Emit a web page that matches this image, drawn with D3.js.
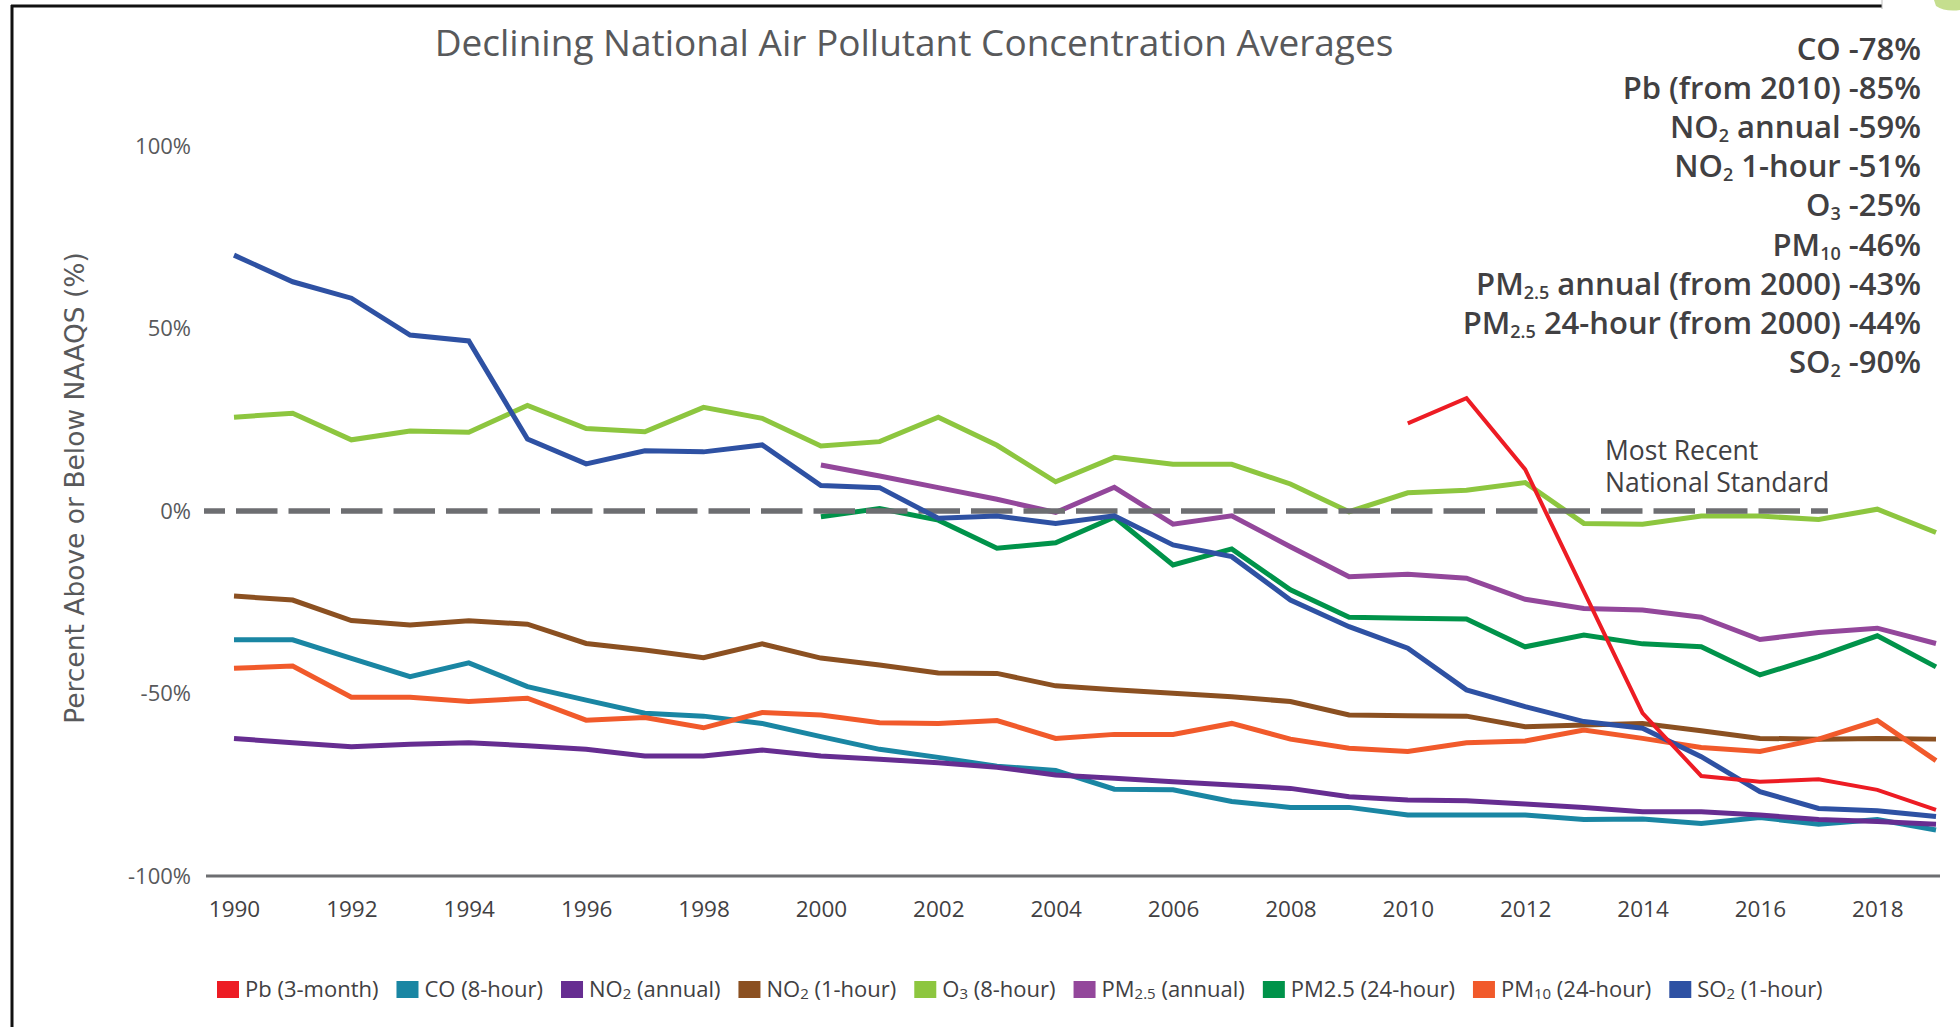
<!DOCTYPE html>
<html>
<head>
<meta charset="utf-8">
<script src="https://cdn.jsdelivr.net/npm/d3@7"></script>
<style>
  body { margin: 0; background: #fff; }
  svg { display: block; }
</style>
</head>
<body>
<svg id="chart" width="1960" height="1027"></svg>
<script>
// ---- data ----
const years = [1990, 1991, 1992, 1993, 1994, 1995, 1996, 1997, 1998, 1999,
               2000, 2001, 2002, 2003, 2004, 2005, 2006, 2007, 2008, 2009,
               2010, 2011, 2012, 2013, 2014, 2015, 2016, 2017, 2018, 2019];

const pb    = [null, null, null, null, null, null, null, null, null, null,
               null, null, null, null, null, null, null, null, null, null,
               24.0, 30.9, 11.4, -22.0, -55.4, -72.6, -74.2, -73.5, -76.4, -81.9];
const co    = [-35.3, -35.3, -40.4, -45.4, -41.6, -48.1, -51.8, -55.4, -56.2, -58.2,
               -61.8, -65.3, -67.5, -69.9, -71.1, -76.2, -76.4, -79.6, -81.2, -81.2,
               -83.3, -83.3, -83.3, -84.5, -84.4, -85.6, -84.0, -85.8, -84.5, -87.4];
const no2Annual = [-62.3, -63.5, -64.6, -63.9, -63.5, -64.3, -65.3, -67.1, -67.1, -65.5,
               -67.1, -68.0, -69.0, -70.2, -72.3, -73.2, -74.2, -75.1, -76.0, -78.3,
               -79.2, -79.4, -80.3, -81.2, -82.4, -82.4, -83.3, -84.5, -85.1, -85.8];
const no2Hour = [-23.3, -24.4, -30.0, -31.2, -30.1, -31.0, -36.3, -38.1, -40.2, -36.4,
               -40.3, -42.2, -44.4, -44.5, -47.9, -49.0, -49.9, -50.9, -52.2, -55.9,
               -56.1, -56.2, -59.1, -58.6, -58.2, -60.2, -62.3, -62.5, -62.3, -62.5];
const o3    = [25.7, 26.8, 19.5, 21.9, 21.6, 28.9, 22.6, 21.7, 28.4, 25.4,
               17.8, 19.0, 25.7, 18.0, 8.0, 14.7, 12.8, 12.8, 7.4, -0.2,
               5.0, 5.7, 7.8, -3.4, -3.6, -1.4, -1.4, -2.3, 0.5, -5.9];
const pm25Annual = [null, null, null, null, null, null, null, null, null, null,
               12.6, 9.6, 6.4, 3.2, -0.4, 6.5, -3.6, -1.3, -9.8, -18.0,
               -17.3, -18.4, -24.2, -26.7, -27.1, -29.1, -35.2, -33.3, -32.1, -36.3];
const pm25Day = [null, null, null, null, null, null, null, null, null, null,
               -1.6, 0.7, -2.5, -10.2, -8.7, -1.7, -14.8, -10.4, -21.6, -29.1,
               -29.4, -29.6, -37.2, -34.0, -36.4, -37.2, -44.9, -39.9, -34.2, -42.7];
const pm10  = [-43.1, -42.5, -51.0, -51.0, -52.2, -51.3, -57.3, -56.6, -59.4, -55.2,
               -55.9, -58.0, -58.2, -57.4, -62.3, -61.2, -61.2, -58.2, -62.5, -65.0,
               -65.9, -63.5, -63.0, -60.0, -62.3, -64.8, -65.9, -62.5, -57.4, -68.4];
const so2   = [70.1, 62.8, 58.3, 48.2, 46.6, 19.7, 12.9, 16.5, 16.2, 18.1,
               7.0, 6.4, -2.0, -1.4, -3.4, -1.3, -9.3, -12.5, -24.4, -31.7,
               -37.6, -49.0, -53.6, -57.7, -59.5, -67.3, -76.9, -81.5, -82.1, -83.7];

// legend order; "_{..}" marks a subscript
const seriesNames  = ["Pb (3-month)", "CO (8-hour)", "NO_{2} (annual)", "NO_{2} (1-hour)", "O_{3} (8-hour)",
                      "PM_{2.5} (annual)", "PM2.5 (24-hour)", "PM_{10} (24-hour)", "SO_{2} (1-hour)"];
const seriesValues = [pb, co, no2Annual, no2Hour, o3, pm25Annual, pm25Day, pm10, so2];
const seriesColors = ["#ED1C24", "#1A86A3", "#662D91", "#8B5021", "#8DC63F",
                      "#93479B", "#00934A", "#F15A2B", "#2E51A3"];

const xTicks = [1990, 1992, 1994, 1996, 1998, 2000, 2002, 2004, 2006, 2008, 2010, 2012, 2014, 2016, 2018];
const yTicks = [-100, -50, 0, 50, 100];

const summaryLines = ["CO -78%", "Pb (from 2010) -85%", "NO_{2} annual -59%", "NO_{2} 1-hour -51%",
                      "O_{3} -25%", "PM_{10} -46%", "PM_{2.5} annual (from 2000) -43%",
                      "PM_{2.5} 24-hour (from 2000) -44%", "SO_{2} -90%"];

const titleText = "Declining National Air Pollutant Concentration Averages";
const yTitle = "Percent Above or Below NAAQS (%)";
const standardNote = ["Most Recent", "National Standard"];

// ---- drawing ----
const svg = d3.select("#chart");
const FONT = "'Open Sans', 'Noto Sans', sans-serif";

const x = d3.scaleLinear().domain([1990, 2019]).range([234, 1936]);
const y = d3.scaleLinear().domain([-100, 100]).range([876, 146]);

// split "NO_{2} annual" into pieces
function pieces(str) {
  const out = [];
  const re = /_\{([^}]*)\}/g;
  let last = 0, m;
  while ((m = re.exec(str)) !== null) {
    if (m.index > last) out.push({ t: str.slice(last, m.index), sub: false });
    out.push({ t: m[1], sub: true });
    last = re.lastIndex;
  }
  if (last < str.length) out.push({ t: str.slice(last), sub: false });
  return out;
}

function richText(sel, str, subSize, subDrop) {
  let dropped = false;
  pieces(str).forEach(p => {
    const ts = sel.append("tspan").text(p.t);
    if (p.sub) {
      ts.attr("font-size", subSize).attr("dy", subDrop);
      dropped = true;
    } else if (dropped) {
      ts.attr("dy", -subDrop);
      dropped = false;
    }
  });
}

// frame edges from the screenshot
svg.append("line").attr("x1", 11).attr("x2", 1882).attr("y1", 6).attr("y2", 6)
  .attr("stroke", "#111").attr("stroke-width", 3);
svg.append("line").attr("x1", 12).attr("x2", 12).attr("y1", 5).attr("y2", 1027)
  .attr("stroke", "#111").attr("stroke-width", 3);
svg.append("line").attr("x1", 1882).attr("x2", 1882).attr("y1", 0).attr("y2", 9)
  .attr("stroke", "#bbb").attr("stroke-width", 1);
svg.append("path").attr("d", "M1934,0 L1960,0 L1960,10 Q1945,12 1936,6 Z").attr("fill", "#C5DE8E");

// title
svg.append("text")
  .attr("x", 914).attr("y", 56)
  .attr("text-anchor", "middle")
  .attr("font-family", FONT).attr("font-size", 37)
  .attr("fill", "#58595B")
  .text(titleText);

// y axis title
svg.append("text")
  .attr("transform", "translate(84,488) rotate(-90)")
  .attr("text-anchor", "middle")
  .attr("font-family", "'DejaVu Sans', sans-serif").attr("font-size", 26.5)
  .attr("fill", "#58595B")
  .text(yTitle);

// y tick labels
const yAxis = svg.append("g")
  .attr("transform", "translate(206,0)")
  .call(d3.axisLeft(y).tickValues(yTicks).tickFormat(d => d + "%").tickSize(0).tickPadding(15));
yAxis.select(".domain").remove();
yAxis.selectAll("text")
  .attr("font-family", FONT).attr("font-size", 22).attr("fill", "#58595B");

// x tick labels
const xAxis = svg.append("g")
  .attr("transform", `translate(0,${y(-100)})`)
  .call(d3.axisBottom(x).tickValues(xTicks).tickFormat(d3.format("d")).tickSize(0).tickPadding(25));
xAxis.select(".domain").remove();
xAxis.selectAll("text")
  .attr("font-family", FONT).attr("font-size", 22.5).attr("fill", "#414042");

// bottom baseline at -100%
svg.append("line")
  .attr("x1", x(1990) - 28).attr("x2", x(2019) + 4)
  .attr("y1", y(-100)).attr("y2", y(-100))
  .attr("stroke", "#6D6E71").attr("stroke-width", 3);

const line = d3.line()
  .defined(d => d.v !== null)
  .x(d => x(d.year))
  .y(d => y(d.v));

const plot = svg.append("g");

function drawSeries(i) {
  const pts = years.map((yr, k) => ({ year: yr, v: seriesValues[i][k] }));
  plot.append("path")
    .datum(pts)
    .attr("d", line)
    .attr("fill", "none")
    .attr("stroke", seriesColors[i])
    .attr("stroke-width", i === 0 ? 4 : 5)
    .attr("stroke-linejoin", "miter")
    .attr("stroke-miterlimit", 3);
}

// CO .. PM10 first, then the standard line, then SO2 and Pb on top
[1, 2, 3, 4, 5, 6, 7].forEach(drawSeries);

plot.append("line")
  .attr("x1", x(1990) - 30).attr("x2", x(2016) + 68)
  .attr("y1", y(0)).attr("y2", y(0))
  .attr("stroke", "#6D6E71").attr("stroke-width", 5.5)
  .attr("stroke-dasharray", "41.5,11")
  .attr("stroke-dashoffset", 20.5);

[8, 0].forEach(drawSeries);

// note next to the standard line
svg.append("g").selectAll("text")
  .data(standardNote)
  .join("text")
  .attr("x", 1605)
  .attr("y", (d, i) => 460 + i * 32)
  .attr("font-family", FONT).attr("font-size", 26.5)
  .attr("fill", "#414042")
  .text(d => d);

// summary list top right
const summary = svg.append("g");
summaryLines.forEach((s, i) => {
  const t = summary.append("text")
    .attr("x", 1921).attr("y", 60 + i * 39.1)
    .attr("text-anchor", "end")
    .attr("font-family", FONT).attr("font-size", 31).attr("font-weight", 600)
    .attr("fill", "#414042");
  richText(t, s, 18, 4);
});

// legend row
const legend = svg.append("g");
let lx = 217;
seriesNames.forEach((name, i) => {
  legend.append("rect")
    .attr("x", lx).attr("y", 981)
    .attr("width", 22).attr("height", 17)
    .attr("fill", seriesColors[i]);
  const t = legend.append("text")
    .attr("x", lx + 28).attr("y", 997)
    .attr("font-family", FONT).attr("font-size", 22)
    .attr("fill", "#414042");
  richText(t, name, 15, 2);
  lx += 28 + t.node().getComputedTextLength() + 18;
});
</script>
</body>
</html>
